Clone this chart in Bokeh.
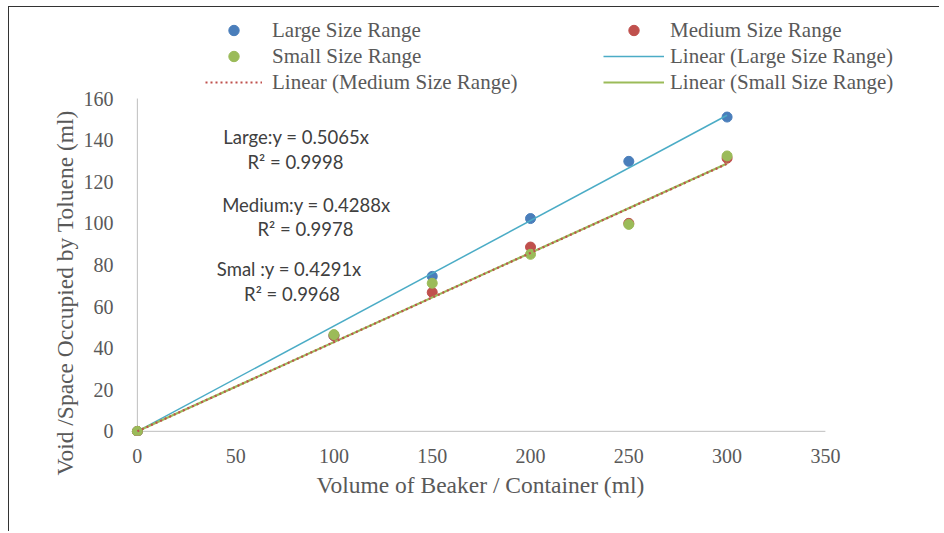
from bokeh.plotting import figure
from bokeh.models import Range1d, FixedTicker, Legend, LegendItem, ColumnDataSource, Title
from bokeh.core.properties import value
from bokeh.embed import file_html
from bokeh.resources import INLINE

# ---- data ----
volume = [0, 100, 150, 200, 250, 300]
large = [0, 46, 74.5, 102.3, 129.8, 151.1]
medium = [0, 46, 66.8, 88.6, 100.0, 131.3]
small = [0, 46.5, 71.2, 85.1, 99.5, 132.4]

trend_x = [0, 300]
slope_large = 0.5065
slope_medium = 0.4288
slope_small = 0.4291

eq_lines = ["Large:y = 0.5065x", "R\u00b2 = 0.9998",
            "Medium:y = 0.4288x", "R\u00b2 = 0.9978",
            "Smal :y = 0.4291x", "R\u00b2 = 0.9968"]

x_ticks = [0, 50, 100, 150, 200, 250, 300, 350]
y_ticks = [0, 20, 40, 60, 80, 100, 120, 140, 160]
x_title = "Volume of Beaker / Container (ml)"
y_title = "Void /Space Occupied by Toluene (ml)"

# ---- layout constants ----
eq_x = [80.9, 80.4, 86.0, 85.5, 77.3, 78.7]
eq_y = [141.4, 129.4, 108.9, 97.4, 78.2, 66.2]

C_LARGE = "#4a7ebb"
C_MED = "#c0504d"
C_SMALL = "#9bbb59"
C_LARGE_T = "#4bacc6"
GRAY = "#595959"
SERIF = "Liberation Serif"

p = figure(frame_width=781, frame_height=421,
           min_border_left=120, min_border_right=29,
           min_border_top=7, min_border_bottom=96,
           x_range=Range1d(-4, 393.3), y_range=Range1d(-2, 200.4),
           output_backend="svg", toolbar_location=None)
p.styles = {"margin-left": "8px", "margin-top": "6px",
            "border-top": "1px solid #333333", "border-left": "1px solid #333333"}

p.xgrid.visible = False
p.ygrid.visible = False
p.outline_line_color = None

for ax in (p.xaxis, p.yaxis):
    ax.axis_line_color = None
    ax.major_tick_line_color = None
    ax.minor_tick_line_color = None
    ax.major_label_text_font = SERIF
    ax.major_label_text_font_size = "20px"
    ax.major_label_text_color = GRAY

p.xaxis.ticker = FixedTicker(ticks=x_ticks)
p.yaxis.ticker = FixedTicker(ticks=y_ticks)
p.xaxis.major_label_standoff = 7
p.yaxis.major_label_standoff = 10

# axis titles (placed to sit under the 0-350 / 0-160 part of the frame)
p.add_layout(Title(text=x_title, align="left", offset=187, standoff=8,
                   text_font=SERIF, text_font_size="23.5px", text_font_style="normal",
                   text_color=GRAY), "below")
p.add_layout(Title(text=y_title, align="left", offset=-40, standoff=6,
                   text_font=SERIF, text_font_size="23.5px", text_font_style="normal",
                   text_color=GRAY), "left")

# axis lines crossing at the origin
p.segment(x0=[x_ticks[0], x_ticks[0]], y0=[y_ticks[0], y_ticks[0]],
          x1=[x_ticks[0], x_ticks[-1]], y1=[y_ticks[-1], y_ticks[0]],
          line_color="#bfbfbf", line_width=1)

src = ColumnDataSource(dict(x=volume, large=large, medium=medium, small=small))
r_large = p.scatter("x", "large", source=src, size=10, color=C_LARGE)
r_med = p.scatter("x", "medium", source=src, size=10, color=C_MED)
r_small = p.scatter("x", "small", source=src, size=10, color=C_SMALL)

t_large = p.line(trend_x, [slope_large * v for v in trend_x], line_color=C_LARGE_T, line_width=1.5)
t_small = p.line(trend_x, [slope_small * v for v in trend_x], line_color=C_SMALL, line_width=2.2)
t_med = p.line(trend_x, [slope_medium * v for v in trend_x], line_color=C_MED, line_width=2.2, line_dash="2 3")

p.text(x=eq_x, y=eq_y, text=eq_lines, text_align="center", text_baseline="middle",
       text_font=value("Lato"), text_font_size="18.5px", text_color="#404040")

common = dict(glyph_height=26, label_height=26, spacing=0, padding=0, margin=0,
              border_line_color=None, background_fill_alpha=0,
              label_text_font=SERIF, label_text_font_size="21px", label_text_color=GRAY)
leg1 = Legend(items=[LegendItem(label="Large Size Range", renderers=[r_large]),
                     LegendItem(label="Small Size Range", renderers=[r_small]),
                     LegendItem(label="Linear (Medium Size Range)", renderers=[t_med])],
              location=(76, 340), glyph_width=57, label_standoff=10, **common)
leg2 = Legend(items=[LegendItem(label="Medium Size Range", renderers=[r_med]),
                     LegendItem(label="Linear (Large Size Range)", renderers=[t_large]),
                     LegendItem(label="Linear (Small Size Range)", renderers=[t_small])],
              location=(474, 340), glyph_width=61, label_standoff=6, **common)
p.add_layout(leg1)
p.add_layout(leg2)

open("out.html", "w").write(file_html(p, INLINE))
